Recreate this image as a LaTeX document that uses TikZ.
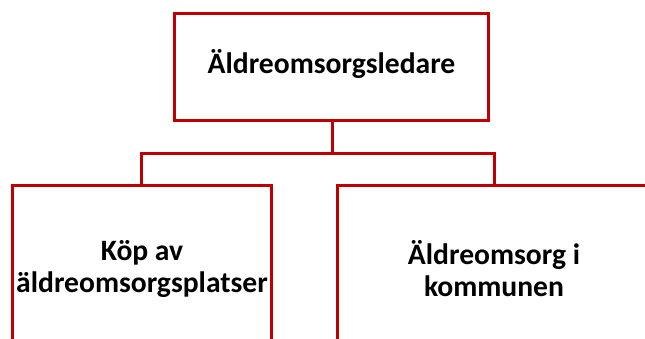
\documentclass[tikz,border=0pt]{standalone}
\usepackage{fontspec}
\setmainfont{Carlito}
\definecolor{boxred}{HTML}{C00000}
\begin{document}
\begin{tikzpicture}[x=1pt,y=-1pt,
  orgbox/.style={draw=boxred,line width=3pt,rectangle,inner sep=0pt},
  orgtext/.style={inner sep=0pt,align=center,font=\fontsize{29.6}{32}\selectfont\bfseries},
  link/.style={draw=boxred,line width=3pt}]
\useasboundingbox (0,0) rectangle (645,338);
\clip (0,0) rectangle (645,338);
\node[orgbox,minimum width=314pt,minimum height=107pt] (top) at (331,66.5) {};
\node[orgbox,minimum width=259pt,minimum height=176pt] (left) at (141.5,273) {};
\node[orgbox,minimum width=314pt,minimum height=176pt] (right) at (494,273) {};
\node[orgtext] (toptext) at (331.5,64) {Äldreomsorgsledare};
\node[orgtext] (lefttext) at (142,268.5) {Köp av\\äldreomsorgsplatser};
\node[orgtext] (righttext) at (494,268.5) {Äldreomsorg i\\kommunen};
\coordinate (junc) at (332,153);
\draw[link] (top.south -| junc) -- (junc);
\draw[link] (junc) -| (left.north);
\draw[link] (junc) -| (right.north);
\end{tikzpicture}
\end{document}
